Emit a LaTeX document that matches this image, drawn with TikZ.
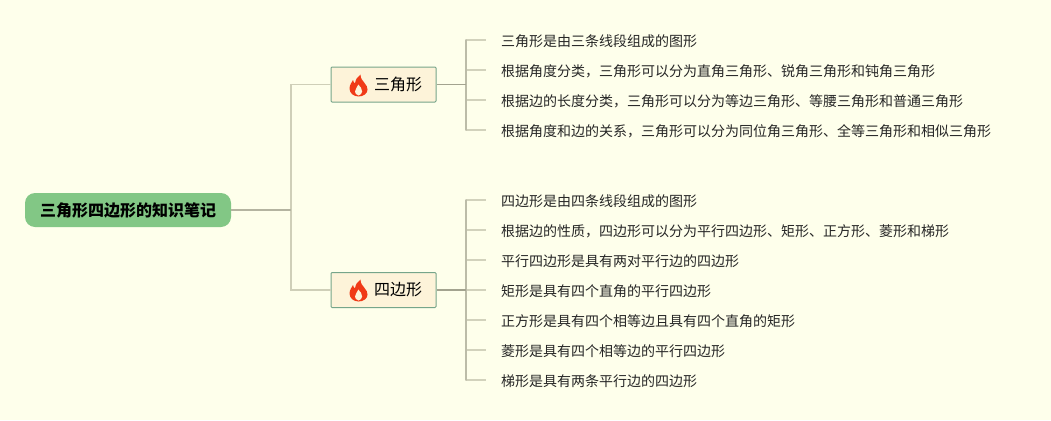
\documentclass[tikz,border=0pt]{standalone}
\usepackage{fontspec}
\setmainfont{Noto Sans CJK SC}
\definecolor{bgc}{HTML}{FEFFEB}
\definecolor{rootc}{HTML}{82C785}
\definecolor{subf}{HTML}{FDF3D9}
\definecolor{subd}{HTML}{76A58A}
\definecolor{la}{HTML}{B4B4A0}
\definecolor{lb}{HTML}{CFCFB8}
\definecolor{lc}{HTML}{A3A38F}
\definecolor{le}{HTML}{BCBCA8}
\definecolor{ld}{HTML}{D2D2BC}
\definecolor{flamec}{HTML}{F03A17}
\tikzset{
  rootbox/.style={fill=rootc,rounded corners=10pt,minimum width=206pt,minimum height=34pt,inner sep=0pt,font=\fontsize{16pt}{18pt}\selectfont\bfseries,text=black},
  subbox/.style={fill=subf,draw=subd,line width=1pt,rounded corners=1pt,minimum width=105pt,minimum height=35pt,inner sep=0pt,font=\fontsize{16pt}{18pt}\selectfont,text=black},
  leaf/.style={anchor=west,inner ysep=0pt,inner xsep=15pt,font=\fontsize{14pt}{16pt}\selectfont,text=black!85},
  trunk/.style={draw=la,line width=1.6pt},
  branch/.style={draw=lb,line width=1.4pt},
  stem/.style={draw=lc,line width=1.6pt},
  spine/.style={draw=le,line width=1.5pt,line cap=round},
  twig/.style={draw=ld,line width=1.4pt},
  flamepic/.pic={
    \fill[flamec] (0,11) .. controls (-5,11) and (-9,7.5) .. (-9,3)
      .. controls (-9,-1) and (-6.5,-3) .. (-5.5,-5.5)
      .. controls (-5,-3.5) and (-4.5,-2.5) .. (-3.5,-2)
      .. controls (-3,-6) and (-1,-9) .. (2,-11)
      .. controls (2,-7) and (4,-5) .. (6,-2.5)
      .. controls (8,0) and (9,1.5) .. (9,4)
      .. controls (9,8) and (5,11) .. (0,11) -- cycle;
    \fill[subf] (0,10) .. controls (-2.5,9.5) and (-3.5,7.5) .. (-3.5,6)
      .. controls (-3.5,3.5) and (-1,2) .. (-0.2,-1)
      .. controls (2,1) and (3.6,3.5) .. (3.6,6)
      .. controls (3.6,8) and (2,9.5) .. (0,10) -- cycle;
  }
}
\begin{document}
\begin{tikzpicture}[x=1pt,y=-1pt]
\useasboundingbox[fill=bgc] (0,0) rectangle (1051,420);
\coordinate (trunkpt) at (291,210);
\coordinate (stemA) at (466,84.5);
\coordinate (stemB) at (466,290);
\node[rootbox] (root) at (128,210) {三角形四边形的知识笔记};
\node[subbox] (tri) at (383.5,84.5) {\hspace*{29pt}三角形};
\node[subbox] (quad) at (383.5,290) {\hspace*{29pt}四边形};
\pic at (358.5,85.5) {flamepic};
\pic at (358.5,290.5) {flamepic};
\node[leaf] (a1) at (486,41) {三角形是由三条线段组成的图形};
\node[leaf] (a2) at (486,71) {根据角度分类，三角形可以分为直角三角形、锐角三角形和钝角三角形};
\node[leaf] (a3) at (486,101) {根据边的长度分类，三角形可以分为等边三角形、等腰三角形和普通三角形};
\node[leaf] (a4) at (486,131) {根据角度和边的关系，三角形可以分为同位角三角形、全等三角形和相似三角形};
\node[leaf] (b1) at (486,201) {四边形是由四条线段组成的图形};
\node[leaf] (b2) at (486,231) {根据边的性质，四边形可以分为平行四边形、矩形、正方形、菱形和梯形};
\node[leaf] (b3) at (486,261) {平行四边形是具有两对平行边的四边形};
\node[leaf] (b4) at (486,291) {矩形是具有四个直角的平行四边形};
\node[leaf] (b5) at (486,321) {正方形是具有四个相等边且具有四个直角的矩形};
\node[leaf] (b6) at (486,351) {菱形是具有四个相等边的平行四边形};
\node[leaf] (b7) at (486,381) {梯形是具有两条平行边的四边形};
\draw[branch] (tri.west) -| (trunkpt);
\draw[branch] (quad.west) -| (trunkpt);
\draw[trunk] (root.east) -- (trunkpt);
\foreach \yy in {40,70,100,130,200,230,260,290,320,350,380}{
  \draw[twig] (466,\yy) -- (486,\yy);
}
\draw[spine] (466,40) -- (466,130);
\draw[spine] (466,200) -- (466,380);
\draw[stem] (tri.east) -- (stemA);
\draw[stem] (quad.east) -- (stemB);
\end{tikzpicture}
\end{document}
